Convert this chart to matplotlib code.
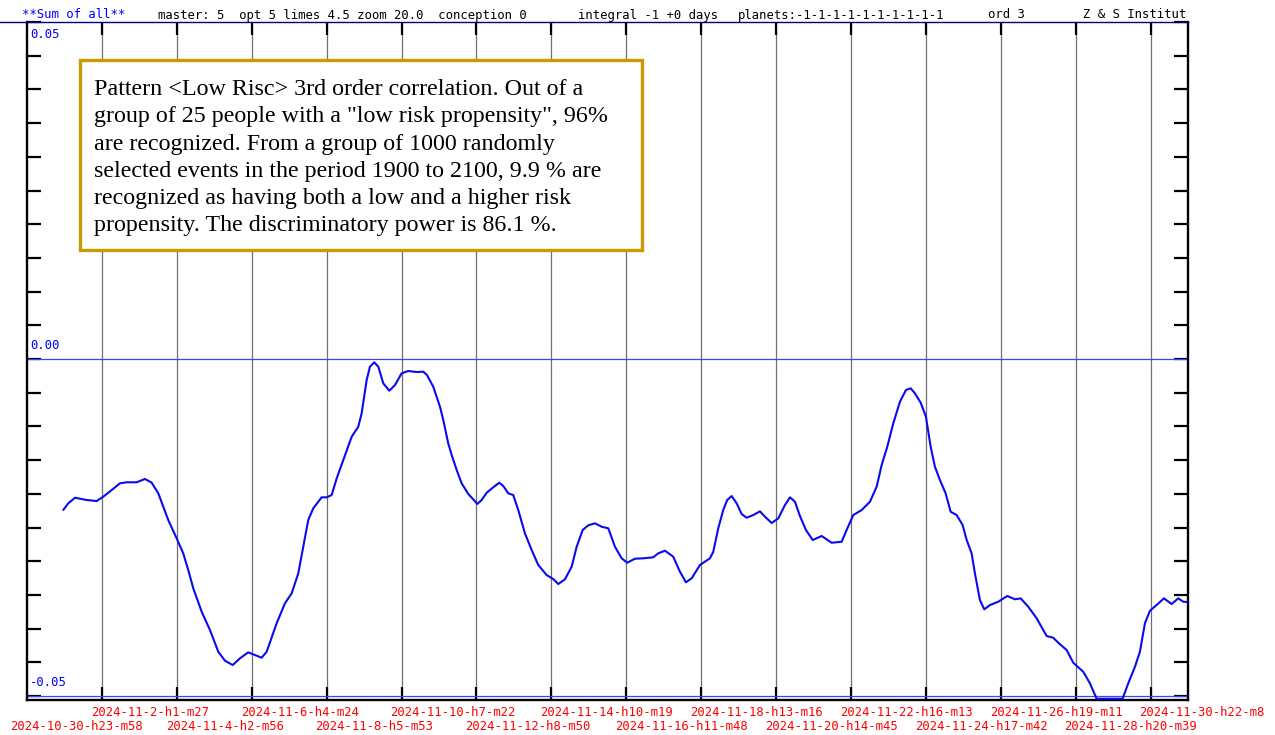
import numpy as np
import matplotlib
matplotlib.use("Agg")
import matplotlib.pyplot as plt
from matplotlib.transforms import offset_copy
from matplotlib.patches import Rectangle
from matplotlib.lines import Line2D

# ---------------- data ----------------
# x in units of tick steps (tick 0 = 2024-10-30-h23-m58, step ~2 days 1.5 h)
x_steps = [-0.517, -0.450, -0.360, -0.204, -0.071, 0.017, 0.130, 0.240, 0.330, 0.463,
           0.574, 0.664, 0.752, 0.885, 0.997, 1.085, 1.152, 1.219, 1.331, 1.442,
           1.553, 1.642, 1.745, 1.842, 1.953, 2.043, 2.132, 2.199, 2.332, 2.443,
           2.533, 2.621, 2.688, 2.754, 2.821, 2.933, 3.000, 3.067, 3.134, 3.222,
           3.334, 3.422, 3.467, 3.534, 3.578, 3.636, 3.689, 3.756, 3.836, 3.912,
           4.001, 4.089, 4.202, 4.290, 4.339, 4.423, 4.513, 4.557, 4.623, 4.669,
           4.736, 4.802, 4.891, 4.957, 5.011, 5.069, 5.136, 5.224, 5.304, 5.358,
           5.425, 5.491, 5.558, 5.647, 5.737, 5.825, 5.937, 6.025, 6.092, 6.181,
           6.271, 6.338, 6.418, 6.493, 6.582, 6.672, 6.760, 6.849, 6.939, 7.013,
           7.116, 7.227, 7.360, 7.427, 7.517, 7.627, 7.717, 7.797, 7.873, 7.984,
           8.117, 8.162, 8.228, 8.295, 8.348, 8.407, 8.474, 8.541, 8.607, 8.696,
           8.785, 8.852, 8.941, 9.030, 9.119, 9.186, 9.252, 9.319, 9.399, 9.489,
           9.609, 9.742, 9.876, 9.942, 10.031, 10.143, 10.254, 10.343, 10.410, 10.485,
           10.565, 10.654, 10.734, 10.797, 10.854, 10.931, 11.001, 11.064, 11.121, 11.188,
           11.264, 11.331, 11.411, 11.491, 11.545, 11.611, 11.655, 11.722, 11.780, 11.856,
           11.967, 12.087, 12.190, 12.266, 12.367, 12.479, 12.613, 12.701, 12.768, 12.880,
           12.968, 13.101, 13.191, 13.280, 13.627, 13.702, 13.792, 13.858, 13.925, 13.992,
           14.081, 14.179, 14.282, 14.370, 14.437, 14.483]

values = [-0.02240, -0.02141, -0.02058, -0.02092, -0.02107, -0.02043, -0.01944, -0.01844, -0.01829, -0.01829,
          -0.01780, -0.01835, -0.01993, -0.02389, -0.02660, -0.02883, -0.03131, -0.03402, -0.03749, -0.04021,
          -0.04343, -0.04476, -0.04540, -0.04441, -0.04352, -0.04392, -0.04432, -0.04343, -0.03921, -0.03625,
          -0.03476, -0.03180, -0.02785, -0.02389, -0.02215, -0.02052, -0.02052, -0.02018, -0.01770, -0.01499,
          -0.01153, -0.01004, -0.00806, -0.00312, -0.00114, -0.00049, -0.00114, -0.00361, -0.00470, -0.00386,
          -0.00212, -0.00178, -0.00193, -0.00188, -0.00237, -0.00411, -0.00708, -0.00905, -0.01251, -0.01424,
          -0.01647, -0.01844, -0.02003, -0.02082, -0.02151, -0.02092, -0.01984, -0.01904, -0.01835, -0.01884,
          -0.01993, -0.02018, -0.02240, -0.02586, -0.02834, -0.03056, -0.03205, -0.03264, -0.03338, -0.03269,
          -0.03082, -0.02785, -0.02537, -0.02467, -0.02438, -0.02488, -0.02512, -0.02785, -0.02957, -0.03022,
          -0.02963, -0.02957, -0.02942, -0.02883, -0.02844, -0.02933, -0.03156, -0.03313, -0.03254, -0.03056,
          -0.02957, -0.02859, -0.02512, -0.02240, -0.02092, -0.02033, -0.02141, -0.02300, -0.02355, -0.02315,
          -0.02260, -0.02340, -0.02433, -0.02364, -0.02166, -0.02052, -0.02117, -0.02329, -0.02537, -0.02685,
          -0.02626, -0.02726, -0.02711, -0.02537, -0.02315, -0.02240, -0.02117, -0.01895, -0.01573, -0.01301,
          -0.00954, -0.00634, -0.00460, -0.00435, -0.00509, -0.00648, -0.00856, -0.01301, -0.01598, -0.01795,
          -0.01993, -0.02266, -0.02315, -0.02463, -0.02685, -0.02883, -0.03180, -0.03576, -0.03714, -0.03650,
          -0.03601, -0.03516, -0.03565, -0.03551, -0.03675, -0.03847, -0.04110, -0.04135, -0.04209, -0.04318,
          -0.04506, -0.04640, -0.04812, -0.05040, -0.05040, -0.04812, -0.04565, -0.04343, -0.03921, -0.03734,
          -0.03650, -0.03551, -0.03635, -0.03551, -0.03601, -0.03605]

tick_labels = ["2024-10-30-h23-m58", "2024-11-2-h1-m27", "2024-11-4-h2-m56", "2024-11-6-h4-m24",
               "2024-11-8-h5-m53", "2024-11-10-h7-m22", "2024-11-12-h8-m50", "2024-11-14-h10-m19",
               "2024-11-16-h11-m48", "2024-11-18-h13-m16", "2024-11-20-h14-m45", "2024-11-22-h16-m13",
               "2024-11-24-h17-m42", "2024-11-26-h19-m11", "2024-11-28-h20-m39", "2024-11-30-h22-m8"]

y_label_values = [0.05, 0.0, -0.05]
y_label_texts = ["0.05", "0.00", "-0.05"]

header_items = [("**Sum of all**", 22, "#0000ff"),
                ("master: 5  opt 5 limes 4.5 zoom 20.0  conception 0", 158, "black"),
                ("integral -1 +0 days", 578, "black"),
                ("planets:-1-1-1-1-1-1-1-1-1-1", 738, "black"),
                ("ord 3", 988, "black"),
                ("Z & S Institut", 1083, "black")]

note_lines = ["Pattern <Low Risc> 3rd order correlation. Out of a",
              "group of 25 people with a \"low risk propensity\", 96%",
              "are recognized. From a group of 1000 randomly",
              "selected events in the period 1900 to 2100, 9.9 % are",
              "recognized as having both a low and a higher risk",
              "propensity. The discriminatory power is 86.1 %."]

# ---------------- figure ----------------
W, H = 1275, 735
fig = plt.figure(figsize=(W / 100, H / 100), dpi=100)
fig.patch.set_facecolor("white")

L, R, T, B = 26.7, 1188.0, 22.0, 700.0
ax = fig.add_axes([L / W, 1 - B / H, (R - L) / W, (B - T) / H])
ax.set_xlim(-1.005, 14.5)
ax.set_ylim(-0.05059, 0.05)

ax.set_xticks(range(15))
ax.set_yticks(np.linspace(-0.05, 0.05, 21))
ax.tick_params(axis="x", direction="in", length=9.5, width=1.6, top=True, bottom=True,
               labelbottom=False, colors="black")
ax.tick_params(axis="y", direction="in", length=10, width=1.6, left=True, right=True,
               labelleft=False)
ax.grid(axis="x", color="#6e6e6e", lw=0.9)
ax.set_axisbelow(True)

for s in ("left", "right", "bottom"):
    ax.spines[s].set_color("black")
    ax.spines[s].set_linewidth(1.7)
ax.spines["top"].set_color("#000080")
ax.spines["top"].set_linewidth(1.0)

ax.axhline(0.0, color="#4040ff", lw=0.9, zorder=1)
ax.axhline(-0.05, color="#4040ff", lw=0.9, zorder=1)

ax.plot(x_steps, values, color="#0a0af0", lw=1.5, solid_joinstyle="round",
        solid_capstyle="round", antialiased=True, zorder=3)

# header line extension to the left edge
fig.add_artist(Line2D([0, L / W], [1 - T / H, 1 - T / H], color="#000080", lw=1.0,
                      transform=fig.transFigure))

mono = "DejaVu Sans Mono"
fs = 8.85
for text, px, col in header_items:
    fig.text(px / W, 1 - 15 / H, text, family=mono, size=fs, color=col, va="center", ha="left")

# y labels inside the axes
ytrans = ax.get_yaxis_transform()
for v, t in zip(y_label_values, y_label_texts):
    dy = -12 if v >= 0.05 else 13.3
    tr = offset_copy(ytrans, fig=fig, x=0, y=dy, units="dots")
    ax.text(3.3 / (R - L), v, t, transform=tr, family=mono, size=fs, color="#0000ff",
            va="center", ha="left")

# date labels in two rows
xtrans = ax.get_xaxis_transform()
for k, lab in enumerate(tick_labels):
    dx = -92 if k == 0 else -86
    dy = -13 if k % 2 == 1 else -26.7
    tr = offset_copy(xtrans, fig=fig, x=dx, y=dy, units="dots")
    ax.text(k, 0, lab, transform=tr, family=mono, size=fs, color="#ff0000",
            va="center", ha="left", clip_on=False)

# annotation box
bx0, by0, bx1, by1 = 80, 60, 642, 250
fig.add_artist(Rectangle((bx0 / W, 1 - by1 / H), (bx1 - bx0) / W, (by1 - by0) / H,
                         transform=fig.transFigure, facecolor="white", edgecolor="#cc9900",
                         lw=2.4, zorder=5))
for i, line in enumerate(note_lines):
    yb = 95 + 27.3 * i
    fig.text(94 / W, 1 - yb / H, line, family="Liberation Serif", size=17.3,
             color="black", va="baseline", ha="left", zorder=6)

fig.savefig("out.png", dpi=100)
